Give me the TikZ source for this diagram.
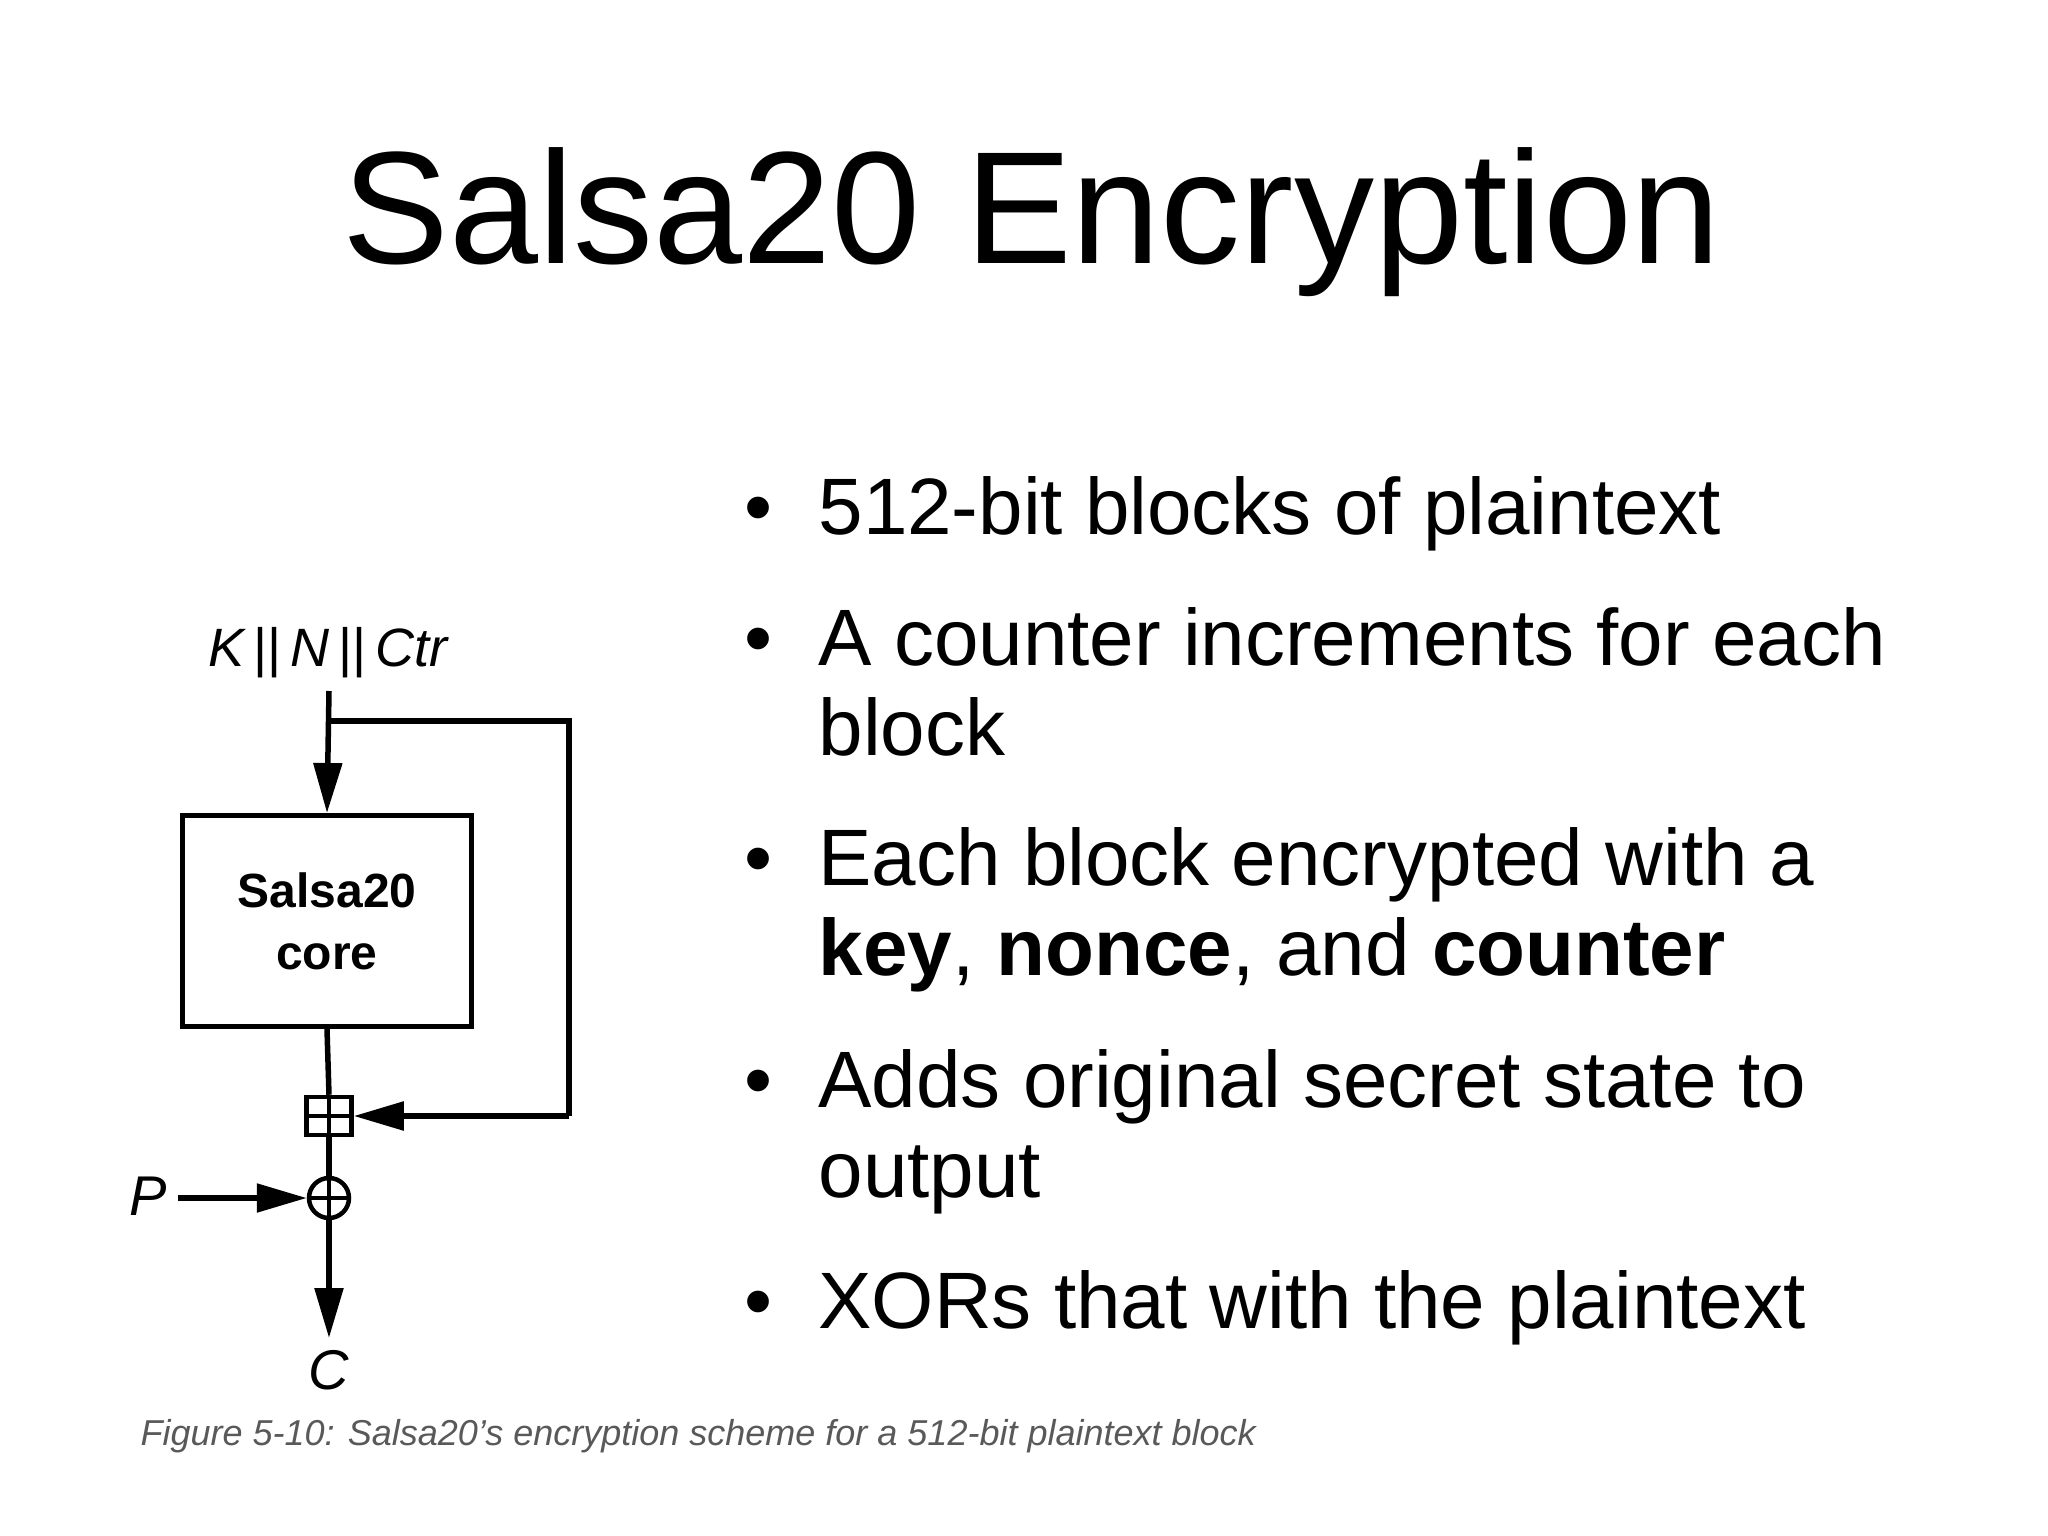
\documentclass[tikz,border=0pt]{standalone}
\usepackage{fontspec}
\setmainfont{Liberation Sans}
\usetikzlibrary{arrows.meta}
\begin{document}
\begin{tikzpicture}[x=1pt,y=-1pt,
  wire/.style={line width=5.5pt},
  arr/.style={wire,-{Triangle[length=50pt,width=28pt]}},
  bul/.style={anchor=base west,font=\fontsize{80}{90}\selectfont},
  dot/.style={anchor=base,font=\fontsize{80}{90}\selectfont}]
\useasboundingbox (0,0) rectangle (2048,1536);
\node[font=\fontsize{160}{170}\selectfont,anchor=base] (title) at (1032,263) {Salsa20 Encryption};
% bullets
\foreach \y/\t in {534/{512-bit blocks of plaintext},665/{A counter increments for each},885/{Each block encrypted with a},1107/{Adds original secret state to},1328/{XORs that with the plaintext}}{
  \node[dot] at (758,\y) {•};
  \node[bul] at (815,\y) {\t};}
\node[bul] (b2) at (815,755) {block};
\node[bul] (b3) at (815,975) {\textbf{key}, \textbf{nonce}, and \textbf{counter}};
\node[bul] (b4) at (815,1197) {output};
% diagram
\node[font=\fontsize{54}{58}\selectfont\itshape,anchor=base] (knc) at (328,666) {K\,{\upshape||}\,N\,{\upshape||}\,Ctr};
\coordinate (top) at (329,691);
\coordinate (br) at (329,721);
\coordinate (rc) at (569,721);
\node[draw,line width=5pt,minimum width=289pt,minimum height=211pt,inner sep=0pt,align=center,
  font=\fontsize{48}{62}\selectfont\bfseries] (core) at (327,921) {Salsa20\\core};
\node[draw,line width=4.5pt,minimum width=45pt,minimum height=38pt,inner sep=0pt] (add) at (329,1116) {};
\draw[line width=4.5pt] (add.north) -- (add.south) (add.west) -- (add.east);
\node[draw,circle,line width=4.5pt,minimum size=40pt,inner sep=0pt] (xor) at (329,1198) {};
\draw[line width=4.5pt] (xor.north) -- (xor.south) (xor.west) -- (xor.east);
\node[font=\fontsize{56}{60}\selectfont\itshape] (P) at (148,1196) {P};
\node[font=\fontsize{56}{60}\selectfont\itshape] (C) at (329,1370) {C};
\coordinate (pstart) at (178,1198);
\coordinate (cend) at (329,1338);
\draw[arr] (top) -- (core.north);
\draw[wire] (br) -- (rc) -- (rc |- add.east);
\draw[arr] (rc |- add.east) -- (add.east);
\draw[wire] (core.south) -- (add.north);
\draw[wire] (add.south) -- (xor.north);
\draw[arr] (pstart) -- (xor.west);
\draw[arr] (xor.south) -- (cend);
\node[anchor=base west,text=black!65,font=\fontsize{36}{40}\selectfont\itshape] (cap) at (137,1445) {Figure 5-10: Salsa20’s encryption scheme for a 512-bit plaintext block};
\end{tikzpicture}
\end{document}
